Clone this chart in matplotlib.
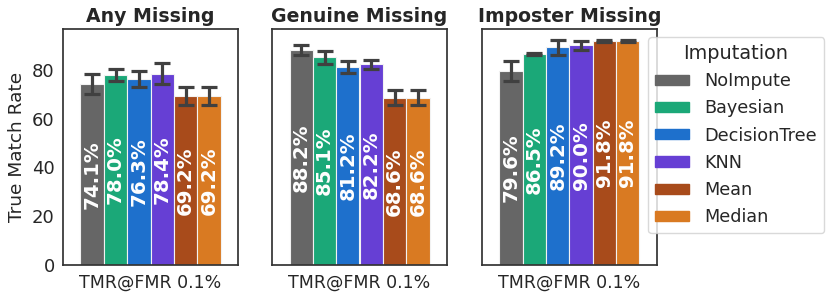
import numpy as np
import matplotlib
matplotlib.use("Agg")
import matplotlib.pyplot as plt

methods = ["NoImpute", "Bayesian", "DecisionTree", "KNN", "Mean", "Median"]
colors = ["#666666", "#1ba878", "#1e70cc", "#663fd4", "#a84b1b", "#d97a22"]
panels = ["Any Missing", "Genuine Missing", "Imposter Missing"]

any_missing = [74.1, 78.0, 76.3, 78.4, 69.2, 69.2]
any_err = [4.1, 2.5, 3.2, 4.4, 3.8, 3.8]
genuine_missing = [88.2, 85.1, 81.2, 82.2, 68.6, 68.6]
genuine_err = [2.1, 2.6, 2.4, 2.0, 3.2, 3.2]
imposter_missing = [79.6, 86.5, 89.2, 90.0, 91.8, 91.8]
imposter_err = [4.1, 0.5, 3.0, 1.7, 0.3, 0.3]

values = [any_missing, genuine_missing, imposter_missing]
errors = [any_err, genuine_err, imposter_err]

plt.rcParams['font.family'] = ['DejaVu Sans']
fig = plt.figure(figsize=(8.31, 3.0), dpi=100)

lefts = [63, 272, 482]
n = len(methods)
w = 0.8 / n
xs = -0.4 + w * (np.arange(n) + 0.5)

for k in range(3):
    ax = fig.add_axes([lefts[k] / 831, 35 / 300, 175 / 831, 236 / 300])
    ax.bar(xs, values[k], width=w, color=colors, edgecolor="#f2f2f2", linewidth=0.8)
    ax.errorbar(xs, values[k], yerr=errors[k], fmt="none", ecolor="#404040",
                elinewidth=2.3, capsize=5.5, capthick=2.3)
    for x, v in zip(xs, values[k]):
        ax.text(x, v / 2, f"{v:.1f}%", rotation=90, ha="center", va="center",
                color="white", fontsize=14.2, fontweight="bold")
    ax.set_xlim(-0.5, 0.5)
    ax.set_ylim(0, 96.7)
    ax.set_xticks([0])
    ax.set_xticklabels(["TMR@FMR 0.1%"], fontsize=12.5, color="#262626")
    ax.set_yticks([0, 20, 40, 60, 80])
    ax.tick_params(length=0, pad=6)
    if k == 0:
        ax.set_yticklabels(["0", "20", "40", "60", "80"], fontsize=13, color="#262626")
        ax.set_ylabel("True Match Rate", fontsize=13.3, color="#262626")
    else:
        ax.set_yticklabels([])
    ax.set_title(panels[k], fontsize=13.6, fontweight="bold", color="#262626", pad=5)
    for s in ax.spines.values():
        s.set_color("#333333")
        s.set_linewidth(1.25)

handles = [plt.Rectangle((0, 0), 1, 1, color=c) for c in colors]
leg = fig.legend(handles, methods, title="Imputation", loc="upper left",
                 bbox_to_anchor=(648 / 831, 1 - 37 / 300), borderaxespad=0,
                 fontsize=12.7, title_fontsize=13.9, frameon=True,
                 handlelength=1.95, handleheight=0.5, handletextpad=0.85,
                 labelspacing=0.52, borderpad=0.4)
leg.get_frame().set_edgecolor("#d0d0d0")
for t in leg.get_texts():
    t.set_color("#262626")
leg.get_title().set_color("#262626")

fig.savefig("out.png", dpi=100)
